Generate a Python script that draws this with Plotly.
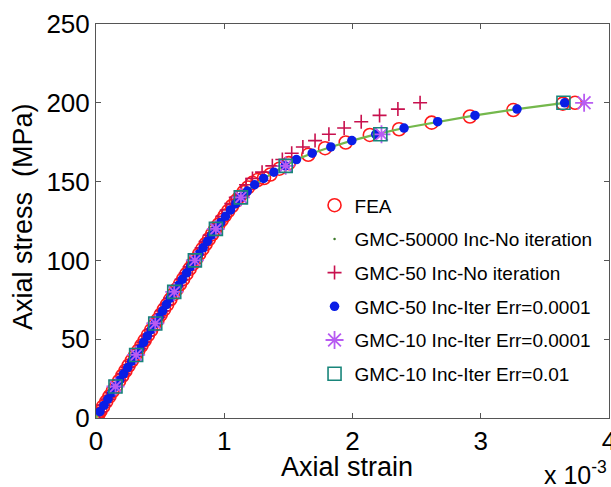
import plotly.graph_objects as go

# ---------------- data (strain in units of 1e-3, stress in MPa) ----------------
fea_strain = [0, 0.005, 0.012, 0.02, 0.035, 0.055, 0.08, 0.105, 0.13, 0.155, 0.18, 0.205, 0.23,
              0.255, 0.28, 0.305, 0.33, 0.355, 0.38, 0.405, 0.43, 0.455, 0.48, 0.505, 0.53, 0.555,
              0.58, 0.605, 0.63, 0.655, 0.68, 0.705, 0.73, 0.755, 0.78, 0.805, 0.83, 0.855, 0.88,
              0.905, 0.93, 0.955, 0.98, 1.005, 1.03, 1.06, 1.09, 1.12, 1.15, 1.185, 1.22, 1.26,
              1.31, 1.36, 1.43, 1.503, 1.655, 1.786, 1.947, 2.135, 2.363, 2.617, 2.916, 3.254,
              3.64, 3.735]
fea_stress = [0, 0.7, 1.6, 2.6, 4.6, 7.2, 10.4, 13.7, 17.0, 20.2, 23.5, 26.8, 30.0,
              33.3, 36.5, 39.6, 42.8, 46.0, 49.3, 52.6, 55.8, 59.0, 62.3, 65.6, 68.9, 72.0,
              75.3, 78.6, 81.8, 85.0, 88.2, 91.4, 94.6, 97.8, 101.0, 104.1, 107.3, 110.4, 113.5,
              116.6, 119.7, 122.7, 125.6, 128.5, 131.3, 134.5, 137.6, 140.5, 143.3, 146.3, 149.2, 151.0,
              152.3, 154.5, 158.2, 161.7, 167.0, 171.2, 174.8, 179.6, 183.2, 187.4, 191.3, 195.4,
              199.5, 200.0]

fine_strain = [0, 0.153, 0.311, 0.462, 0.609, 0.77, 0.935, 1.13, 1.237, 1.387, 1.475, 1.563,
               1.686, 1.831, 1.995, 2.181, 2.402, 2.664, 2.955, 3.283, 3.654]
fine_stress = [0, 20, 40, 60, 80, 100, 120, 140, 148, 156, 160, 164,
               168, 172, 176, 180, 184, 188, 192, 196, 200]

inc50_stress = [4, 8, 12, 16, 20, 24, 28, 32, 36, 40, 44, 48, 52, 56, 60, 64, 68, 72, 76, 80,
                84, 88, 92, 96, 100, 104, 108, 112, 116, 120, 124, 128, 132, 136, 140, 144, 148,
                152, 156, 160, 164, 168, 172, 176, 180, 184, 188, 192, 196, 200]
noiter50_strain = [0.03, 0.062, 0.093, 0.123, 0.153, 0.184, 0.215, 0.247, 0.279, 0.31, 0.34, 0.37,
                   0.399, 0.43, 0.46, 0.489, 0.518, 0.547, 0.577, 0.606, 0.637, 0.668, 0.70, 0.731,
                   0.762, 0.793, 0.824, 0.855, 0.887, 0.92, 0.952, 0.986, 1.02, 1.055, 1.09, 1.128,
                   1.17, 1.22, 1.295, 1.375, 1.453, 1.526, 1.613, 1.708, 1.816, 1.935, 2.068, 2.211,
                   2.354, 2.527]
iter50_strain = [0.03, 0.062, 0.093, 0.123, 0.153, 0.184, 0.215, 0.247, 0.279, 0.311, 0.341, 0.371,
                 0.40, 0.431, 0.462, 0.491, 0.52, 0.549, 0.579, 0.609, 0.641, 0.673, 0.706, 0.738,
                 0.77, 0.802, 0.835, 0.868, 0.901, 0.935, 0.972, 1.01, 1.049, 1.09, 1.13, 1.18,
                 1.237, 1.307, 1.387, 1.475, 1.563, 1.686, 1.831, 1.995, 2.181, 2.402, 2.664, 2.955,
                 3.283, 3.654]

inc10_stress = [20, 40, 60, 80, 100, 120, 140, 160, 180, 200]
iter10_e4_strain = [0.152, 0.313, 0.462, 0.61, 0.771, 0.935, 1.13, 1.479, 2.226, 3.806]
iter10_e2_strain = [0.152, 0.313, 0.462, 0.61, 0.771, 0.935, 1.13, 1.479, 2.217, 3.645]

legend_names = ["FEA", "GMC-50000 Inc-No iteration", "GMC-50 Inc-No iteration",
                "GMC-50 Inc-Iter Err=0.0001", "GMC-10 Inc-Iter Err=0.0001",
                "GMC-10 Inc-Iter Err=0.01"]
x_ticks = [0, 1, 2, 3, 4]
y_ticks = [0, 50, 100, 150, 200, 250]

# ---------------- figure ----------------
FONT = "Liberation Sans, Arial, sans-serif"
fig = go.Figure()

fig.add_trace(go.Scatter(x=fea_strain, y=fea_stress, mode="markers", name=legend_names[0],
                         legendgroup="a",
                         marker=dict(symbol="circle-open", size=13, color="#ff1a1a",
                                     line=dict(width=1.6, color="#ff1a1a"))))
fig.add_trace(go.Scatter(x=fine_strain, y=fine_stress, mode="lines", showlegend=False,
                         line=dict(color="#74b84c", width=2.2)))
fig.add_trace(go.Scatter(x=[None], y=[None], mode="markers", name=legend_names[1],
                         legendgroup="b",
                         marker=dict(symbol="circle", size=2.5, color="#3d7a2a")))
fig.add_trace(go.Scatter(x=noiter50_strain, y=inc50_stress, mode="markers", name=legend_names[2],
                         legendgroup="c",
                         marker=dict(symbol="cross-thin-open", size=10, color="#c8104e",
                                     line=dict(width=1.6, color="#c8104e"))))
fig.add_trace(go.Scatter(x=iter50_strain, y=inc50_stress, mode="markers", name=legend_names[3],
                         legendgroup="d",
                         marker=dict(symbol="circle", size=9.5, color="#0a1ee6",
                                     line=dict(width=0))))
fig.add_trace(go.Scatter(x=iter10_e4_strain, y=inc10_stress, mode="markers", name=legend_names[4],
                         legendgroup="e",
                         marker=dict(symbol="asterisk-open", size=15, color="#b85cf2",
                                     line=dict(width=1.8, color="#b85cf2"))))
fig.add_trace(go.Scatter(x=iter10_e2_strain, y=inc10_stress, mode="markers", name=legend_names[5],
                         legendgroup="f",
                         marker=dict(symbol="square-open", size=13, color="#18857a",
                                     line=dict(width=1.6, color="#18857a"))))

axis_common = dict(showgrid=False, zeroline=False, showline=True, linecolor="#555555",
                   linewidth=1, mirror="ticks", ticks="inside", ticklen=5, tickcolor="#555555",
                   ticklabeloverflow="allow", automargin=False,
                   tickfont=dict(family=FONT, size=26, color="black"))

fig.update_xaxes(range=[0, 4], tickvals=x_ticks, ticktext=[str(v) for v in x_ticks], **axis_common)
fig.update_yaxes(range=[0, 250], tickvals=y_ticks, ticktext=[str(v) for v in y_ticks], **axis_common)

# plot-area pixel box, used to place free text
pl, pr, pt, pb = 96, 609, 24, 418
def px_to_paper(px, py):
    return (px - pl) / (pr - pl), (pb - py) / (pb - pt)

xt_x, xt_y = px_to_paper(347, 467)
yt_x, yt_y = px_to_paper(23, 217)
sc_x, sc_y = px_to_paper(609, 473)

fig.update_layout(
    width=611, height=487,
    margin=dict(l=pl, r=611 - pr, t=pt, b=487 - pb, autoexpand=False),
    paper_bgcolor="white", plot_bgcolor="white",
    showlegend=True,
    legend=dict(x=0.426, xanchor="left", y=0.588, yanchor="top",
                bgcolor="rgba(255,255,255,0)", borderwidth=0,
                font=dict(family=FONT, size=19, color="black"),
                traceorder="grouped", tracegroupgap=6, itemwidth=30),
    annotations=[
        dict(text="Axial strain", x=xt_x, y=xt_y, xref="paper", yref="paper", showarrow=False,
             xanchor="center", yanchor="middle",
             font=dict(family=FONT, size=27, color="black")),
        dict(text="Axial stress\u00a0\u00a0(MPa)", x=yt_x, y=yt_y, xref="paper", yref="paper",
             showarrow=False, textangle=-90, xanchor="center", yanchor="middle",
             font=dict(family=FONT, size=27, color="black")),
        dict(text="x 10<sup>-3</sup>", x=sc_x, y=sc_y, xref="paper", yref="paper", showarrow=False,
             xanchor="right", yanchor="middle",
             font=dict(family=FONT, size=25, color="black")),
    ],
)

fig.write_html("out.html")
